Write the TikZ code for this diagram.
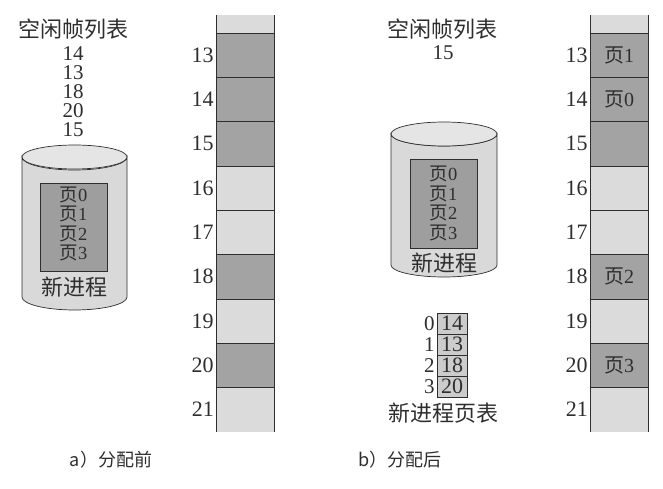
\documentclass[tikz,border=0pt]{standalone}
\usepackage{fontspec}
\setmainfont{Liberation Serif}
\newfontfamily\cjk{Noto Sans CJK SC}
\definecolor{darkcell}{gray}{0.64}
\definecolor{lightcell}{gray}{0.86}
\definecolor{cylfill}{gray}{0.85}
\definecolor{cyltop}{gray}{0.90}
\definecolor{innerfill}{gray}{0.62}
\definecolor{tabfill}{gray}{0.80}
\definecolor{inkc}{gray}{0.18}
\newcommand\yeh{{\cjk 页}}
\tikzset{
  every node/.style={text=inkc},
  memcell/.style={draw=inkc, line width=0.6pt, minimum width=58pt, minimum height=44.3pt, inner sep=0pt, font=\fontsize{20}{20}\selectfont},
  memlabel/.style={anchor=east, inner sep=2pt, font=\fontsize{22}{22}\selectfont},
  colline/.style={draw=inkc, line width=1pt},
  freelist/.style={font=\fontsize{21}{19}\selectfont, inner sep=0pt, align=center},
  titletext/.style={font=\cjk\fontsize{22}{22}\selectfont, inner sep=0pt},
  pagetext/.style={font=\fontsize{18.5}{19.5}\selectfont, inner sep=0pt, align=center},
  cyl/.style={draw=inkc, line width=0.7pt, fill=cylfill},
  innerbox/.style={draw=inkc, line width=0.7pt, fill=innerfill, inner sep=0pt},
  ptcell/.style={draw=inkc, line width=0.6pt, fill=tabfill, minimum width=30pt, minimum height=21pt, inner sep=0pt, font=\fontsize{22}{22}\selectfont},
  ptidx/.style={anchor=east, inner sep=2pt, font=\fontsize{21}{21}\selectfont},
  caption/.style={font=\cjk\fontsize{18}{18}\selectfont, inner sep=0pt}
}
\begin{document}
\begin{tikzpicture}[x=1pt,y=-1pt]
\useasboundingbox (0,0) rectangle (663,489);

% ================= (a) before =================
\node[titletext] (ta) at (73,29) {空闲帧列表};
\node[freelist, anchor=north] (fa) at (73,46) {14\\13\\18\\20\\15};

% cylinder a
\path[cyl] (22,157) -- (22,297) arc[start angle=180, end angle=360, x radius=52.5pt, y radius=13pt] -- (127,157) arc[start angle=0, end angle=180, x radius=52.5pt, y radius=-13pt] -- cycle;
\path[cyl, fill=cyltop] (74.5,157) ellipse[x radius=52.5pt, y radius=12pt];
\node[innerbox, minimum width=67pt, minimum height=88pt] (ia) at (73.5,227) {};
\node[pagetext] (pa) at (73.5,224) {\yeh 0\\\yeh 1\\\yeh 2\\\yeh 3};
\node[titletext] (na) at (74.5,287) {新进程};

% memory a
\fill[lightcell] (216,15) rectangle (274,33);
\fill[lightcell] (216,387.4) rectangle (274,432);
\foreach \n/\c [count=\i from 0] in {13/darkcell,14/darkcell,15/darkcell,16/lightcell,17/lightcell,18/darkcell,19/lightcell,20/darkcell}{
  \node[memcell, fill=\c] (a\n) at (245,{55.15+44.3*\i}) {};
  \node[memlabel] (la\n) at (a\n.west) {\n};
}
\node[memlabel] (la21) at (216,409.7) {21};
\draw[colline] (216,15) -- (216,432);
\draw[colline] (274,15) -- (274,432);

\node[caption] (capa) at (111,460) {a）分配前};

% ================= (b) after =================
\node[titletext] (tb) at (442,29) {空闲帧列表};
\node[freelist] (fb1) at (443,53) {15};

% cylinder b
\path[cyl] (391,134) -- (391,265) arc[start angle=180, end angle=360, x radius=53pt, y radius=12pt] -- (497,134) arc[start angle=0, end angle=180, x radius=53pt, y radius=-12pt] -- cycle;
\path[cyl, fill=cyltop] (444,134) ellipse[x radius=53pt, y radius=12pt];
\node[innerbox, minimum width=67pt, minimum height=89pt] (ib) at (443.5,203.5) {};
\node[pagetext] (pb) at (443.5,203.5) {\yeh 0\\\yeh 1\\\yeh 2\\\yeh 3};
\node[titletext] (nb) at (444,263) {新进程};

% page table
\foreach \v/\k [count=\i from 0] in {14/0,13/1,18/2,20/3}{
  \node[ptcell] (pt\k) at (452,{323.5+21*\i}) {\v};
  \node[ptidx] (px\k) at (pt\k.west) {\k};
}
\node[titletext] (ptt) at (443,413) {新进程页表};

% memory b
\fill[lightcell] (590,15) rectangle (648,33);
\fill[lightcell] (590,387.4) rectangle (648,432);
\foreach \n/\c/\t [count=\i from 0] in {13/darkcell/{\yeh 1},14/darkcell/{\yeh 0},15/darkcell/{},16/lightcell/{},17/lightcell/{},18/darkcell/{\yeh 2},19/lightcell/{},20/darkcell/{\yeh 3}}{
  \node[memcell, fill=\c] (b\n) at (619,{55.15+44.3*\i}) {\t};
  \node[memlabel] (lb\n) at (b\n.west) {\n};
}
\node[memlabel] (lb21) at (590,409.7) {21};
\draw[colline] (590,15) -- (590,432);
\draw[colline] (648,15) -- (648,432);

\node[caption] (capb) at (400,460) {b）分配后};
\end{tikzpicture}
\end{document}
